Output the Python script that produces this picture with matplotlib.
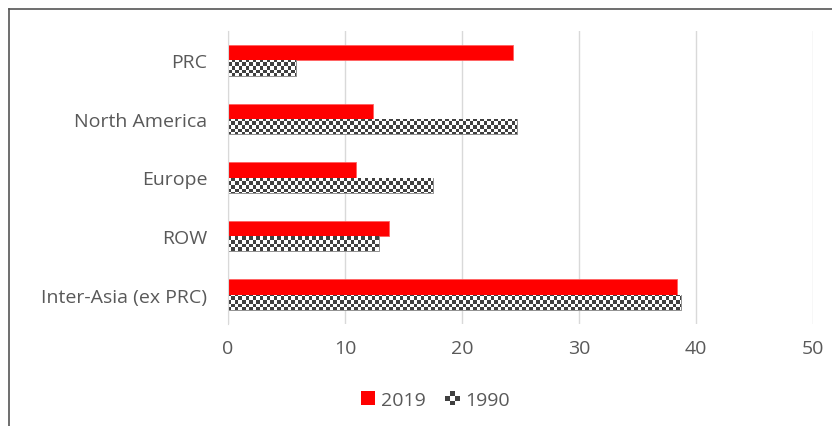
import numpy as np
import matplotlib
matplotlib.use("Agg")
import matplotlib.pyplot as plt
from matplotlib.patches import Rectangle, Patch
from matplotlib.legend_handler import HandlerBase
from matplotlib.colors import ListedColormap

categories = ["Inter-Asia (ex PRC)", "ROW", "Europe", "North America", "PRC"]
values_2019 = [38.4, 13.8, 10.9, 12.4, 24.4]
values_1990 = [38.7, 12.9, 17.5, 24.7, 5.8]
series_labels = ["2019", "1990"]
xticks = [0, 10, 20, 30, 40, 50]

plt.rcParams['font.family'] = ['Open Sans', 'DejaVu Sans']
TXT = '#595959'
RED = '#ff0000'
DARK = '#404040'
FS = 14

fig = plt.figure(figsize=(8.32, 4.27), dpi=100)
ax = fig.add_axes([228/832, 1-325/427, 585/832, 293/427])

y = np.arange(len(categories))
h = 0.26
bars19 = ax.barh(y + h/2, values_2019, height=h, color=RED, edgecolor='#ff6060', linewidth=0.6, zorder=3)
bars90 = ax.barh(y - h/2, values_1990, height=h, facecolor='white', edgecolor='#7f7f7f', linewidth=0.6, zorder=3)

ax.set_xlim(0, 50)
ax.set_ylim(-0.5, len(categories) - 0.5)

# checkerboard image clipped to each 1990 bar
cell = 3.5
ny = int(293 / cell) + 1
nx = int(585 / cell) + 1
ii, jj = np.indices((ny, nx))
board = ((ii + jj) % 2).astype(float)
cmap = ListedColormap(['white', DARK])
for b in bars90:
    im = ax.imshow(board, cmap=cmap, vmin=0, vmax=1, interpolation='nearest',
                   extent=[0, 50 * nx * cell / 585, len(categories) - 0.5 - ny * cell / 58.6, len(categories) - 0.5],
                   aspect='auto', zorder=3.5, origin='upper')
    im.set_clip_path(b)
ax.set_xlim(0, 50)
ax.set_ylim(-0.5, len(categories) - 0.5)

ax.set_yticks(y)
ax.set_yticklabels(categories, fontsize=FS, color=TXT)
ax.set_xticks(xticks)
ax.set_xticklabels([str(t) for t in xticks], fontsize=FS, color=TXT)
ax.tick_params(length=0)
ax.tick_params(axis='y', pad=15)
ax.tick_params(axis='x', pad=11)
ax.grid(axis='x', color='#d9d9d9', linewidth=1, zorder=0)
for s in ['top', 'right', 'bottom']:
    ax.spines[s].set_visible(False)
ax.spines['left'].set_color('#d9d9d9')
ax.spines['left'].set_zorder(4)


class CheckerHandler(HandlerBase):
    def create_artists(self, legend, orig_handle, xdescent, ydescent, width, height, fontsize, trans):
        arts = []
        s = height / 3.0
        x0 = width - 3 * s
        for (i, j) in [(0, 1), (1, 0), (1, 2), (2, 1)]:
            r = Rectangle((x0 + i * s - xdescent, j * s - ydescent), s, s,
                          facecolor=DARK, edgecolor='none', transform=trans)
            arts.append(r)
        return arts


class SquareHandler(HandlerBase):
    def create_artists(self, legend, orig_handle, xdescent, ydescent, width, height, fontsize, trans):
        r = Rectangle((width - height - xdescent, -ydescent), height, height,
                      facecolor=RED, edgecolor='none', transform=trans)
        return [r]


h19 = Patch(facecolor=RED)
h90 = Patch(facecolor='white')
leg = fig.legend([h19, h90], series_labels, loc='center', bbox_to_anchor=(0.523, 0.061),
                 ncol=2, frameon=False, fontsize=FS, handlelength=0.75, handleheight=0.75,
                 handletextpad=0.3, columnspacing=1.0,
                 handler_map={h19: SquareHandler(), h90: CheckerHandler()})
for t in leg.get_texts():
    t.set_color(TXT)

# frame lines (top and left)
fig.add_artist(plt.Line2D([9/832, 1], [1-10/427, 1-10/427], color='#555555', linewidth=1.2, transform=fig.transFigure))
fig.add_artist(plt.Line2D([9/832, 9/832], [0, 1-10/427], color='#555555', linewidth=1.2, transform=fig.transFigure))

fig.savefig('out.png', dpi=100, facecolor='white')
